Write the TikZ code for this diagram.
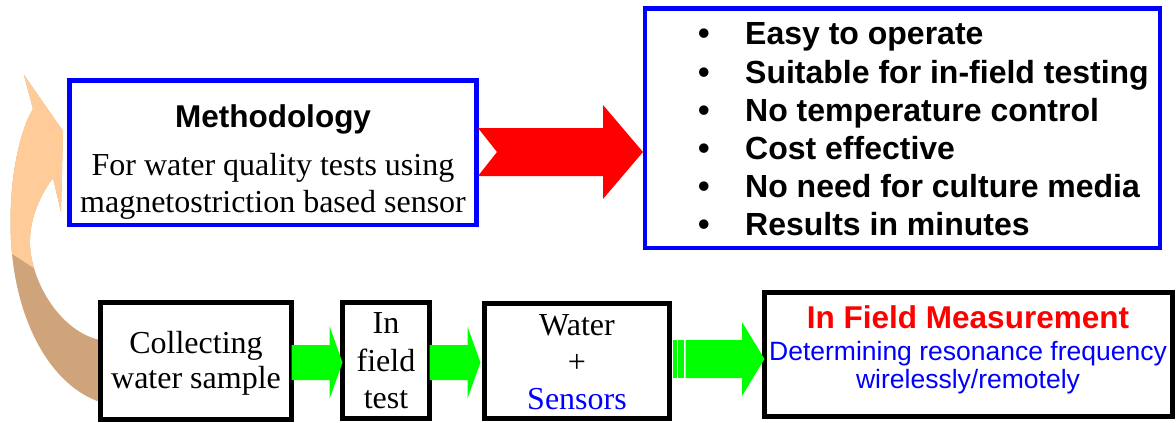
\documentclass[tikz,border=0pt]{standalone}
\usepackage{fontspec}
\setmainfont{Liberation Serif}
\newfontfamily\arialf{Liberation Sans}
\usetikzlibrary{calc}
\definecolor{pureblue}{RGB}{0,0,255}
\definecolor{purered}{RGB}{255,0,0}
\definecolor{puregreen}{RGB}{0,255,0}
\definecolor{peach}{RGB}{255,204,153}
\definecolor{tanback}{RGB}{208,164,122}
% style, from, to, y centre, shaft half, head half, head length, tip shift
\newcommand\myarrow[8]{%
  \fill[#1] let \p1=(#2.east), \p2=(#3.west) in
   (\x1,#4-#5) -- (\x2-#7-#8,#4-#5) -- (\x2-#7-#8,#4-#6) -- (\x2-#8,#4)
   -- (\x2-#7-#8,#4+#6) -- (\x2-#7-#8,#4+#5) -- (\x1,#4+#5) -- cycle;}
\tikzset{
  bluebox/.style={rectangle, draw=pureblue, line width=4.5pt, fill=white, inner sep=0pt, outer sep=0pt},
  blackbox/.style={rectangle, draw=black, line width=5pt, fill=white, inner sep=0pt, outer sep=0pt},
  serif/.style={font=\fontsize{32}{38}\selectfont, anchor=base, inner sep=0pt},
  sansbold/.style={font=\arialf\bfseries\fontsize{31.5}{38}\selectfont, anchor=base, inner sep=0pt},
  sansreg/.style={font=\arialf\fontsize{26.5}{30}\selectfont, anchor=base, inner sep=0pt, text=pureblue},
  bullettext/.style={font=\arialf\bfseries\fontsize{32}{38}\selectfont, inner sep=0pt, anchor=base west},
  bulletdot/.style={font=\arialf\bfseries\fontsize{33}{38}\selectfont, inner sep=0pt, anchor=base},
}
\begin{document}
\begin{tikzpicture}[x=1pt,y=-1pt]
\useasboundingbox (0,0) rectangle (1176,423);

% curved return arrow
\path[save path=\curvedarrow] (24,75) -- (63,131) -- (61,212) -- (53,178)
  .. controls (40,195) and (29,220) .. (30,245)
  .. controls (32,285) and (62,332) .. (100,340)
  -- (100,402)
  .. controls (50,385) and (15,320) .. (11,240)
  .. controls (8,180) and (20,130) .. (33,109) -- cycle;
\fill[tanback, use path=\curvedarrow];
\begin{scope}
  \clip (0,0) -- (140,0) -- (140,200) -- (40,272) -- (0,246) -- cycle;
  \fill[peach, use path=\curvedarrow];
\end{scope}

% boxes
\node[bluebox, minimum width=407pt, minimum height=144.5pt] (meth) at (273,152.75) {};
\node[bluebox, minimum width=515pt, minimum height=239.5pt] (bul) at (902.5,128.25) {};
\node[blackbox, minimum width=191pt, minimum height=116.5pt] (coll) at (196,360.75) {};
\node[blackbox, minimum width=87pt, minimum height=115.5pt] (inf) at (386,360.25) {};
\node[blackbox, minimum width=185pt, minimum height=115pt] (wat) at (577,360.5) {};
\node[blackbox, minimum width=407.5pt, minimum height=124pt] (meas) at (968.25,354.5) {};

% block arrows
\fill[purered] let \p1=(meth.east), \p2=(bul.west) in
  (\x1+1.5pt,128) -- (\x2-42pt,128) -- (\x2-42pt,105) -- (\x2-2pt,152)
  -- (\x2-42pt,199) -- (\x2-42pt,176) -- (\x1+1.5pt,176) -- (\x1+20.5pt,152) -- cycle;
\myarrow{puregreen}{coll}{inf}{362.5}{17.5}{36.5}{13}{0}
\myarrow{puregreen}{inf}{wat}{362.5}{17.5}{36}{13}{4}
\fill[puregreen] let \p1=(wat.east) in (\x1+3pt,340) rectangle (\x1+7.5pt,378);
\fill[puregreen] let \p1=(wat.east) in (\x1+8.5pt,340) rectangle (\x1+14.5pt,378);
\fill[puregreen] let \p1=(wat.east), \p2=(meas.west) in
  (\x1+16pt,340) -- (\x2-22.5pt,340) -- (\x2-22.5pt,322) -- (\x2,359)
  -- (\x2-22.5pt,396) -- (\x2-22.5pt,378) -- (\x1+16pt,378) -- cycle;

% methodology text
\node[sansbold] (methT) at (273,127) {Methodology};
\node[serif] (methA) at (273,175) {For water quality tests using};
\node[serif] (methB) at (273,212) {magnetostriction based sensor};

% bullets
\foreach \t [count=\i] in {Easy to operate, Suitable for in-field testing, No temperature control, Cost effective, No need for culture media, Results in minutes}{
  \node[bulletdot] (dot\i) at (704,{45+(\i-1)*38}) {•};
  \node[bullettext] (item\i) at (745,{45+(\i-1)*38}) {\t};
}

% bottom texts
\node[serif] (collA) at (196,353) {Collecting};
\node[serif] (collB) at (196,388) {water sample};
\node[serif] (infA) at (386,333) {In};
\node[serif] (infB) at (386,371) {field};
\node[serif] (infC) at (386,408) {test};
\node[serif] (watA) at (577,335) {Water};
\node[serif] (watB) at (577,372) {+};
\node[serif, text=pureblue] (watC) at (577,409) {Sensors};
\node[sansbold, text=purered] (measA) at (968,328) {In Field Measurement};
\node[sansreg] (measB) at (968,360) {Determining resonance frequency};
\node[sansreg] (measC) at (968,388) {wirelessly/remotely};
\end{tikzpicture}
\end{document}
